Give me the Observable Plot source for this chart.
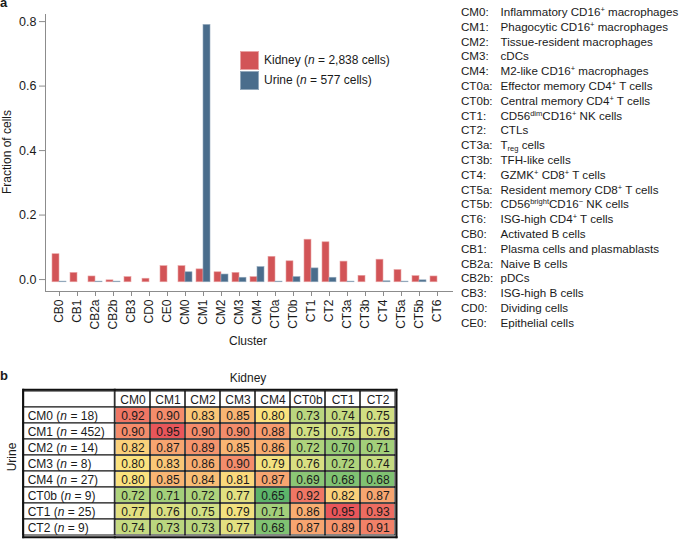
<!DOCTYPE html>
<html><head><meta charset="utf-8">
<script src="https://cdn.jsdelivr.net/npm/d3@7"></script>
<script src="https://cdn.jsdelivr.net/npm/@observablehq/plot@0.6"></script>
<style>
body{margin:0;background:#fff;font-family:"Liberation Sans",Arial,sans-serif;color:#1a1a1a}
#root{position:relative;width:685px;height:539px;overflow:hidden}
.abs{position:absolute;white-space:nowrap}
.list{left:461px;top:5px;font-size:11.6px;line-height:14.8px}
.list .code{display:inline-block;width:39.5px}
sup,sub{font-size:65%;line-height:0}
sup{vertical-align:0.55em}
sub{vertical-align:-0.3em}
.sw{position:absolute;width:19px;height:19px;box-sizing:border-box}
svg{overflow:visible}
</style></head><body><div id="root"></div>
<script>
// ---------- data ----------
const clusters = ["CB0","CB1","CB2a","CB2b","CB3","CD0","CE0","CM0","CM1","CM2","CM3","CM4","CT0a","CT0b","CT1","CT2","CT3a","CT3b","CT4","CT5a","CT5b","CT6"];
const kidneyFrac = [0.087,0.029,0.018,0.006,0.016,0.011,0.050,0.050,0.040,0.031,0.029,0.016,0.079,0.065,0.132,0.124,0.064,0.020,0.070,0.038,0.019,0.018];
const urineFrac  = [0.002,null,0.002,0.002,null,null,null,0.031,0.798,0.024,0.014,0.047,0.002,0.016,0.043,0.014,0.002,null,0.003,0.002,0.006,null];
const yTicks = [0,0.2,0.4,0.6,0.8];
const seriesNames = ["Kidney","Urine"];
const seriesN = ["2,838","577"];

const kidneyCols = ["CM0","CM1","CM2","CM3","CM4","CT0b","CT1","CT2"];
const urineRows  = ["CM0","CM1","CM2","CM3","CM4","CT0b","CT1","CT2"];
const urineN     = [18,452,14,8,27,9,25,9];
const similarity = [
  [0.92,0.90,0.83,0.85,0.80,0.73,0.74,0.75],
  [0.90,0.95,0.90,0.90,0.88,0.75,0.75,0.76],
  [0.82,0.87,0.89,0.85,0.86,0.72,0.70,0.71],
  [0.80,0.83,0.86,0.90,0.79,0.76,0.72,0.74],
  [0.80,0.85,0.84,0.81,0.87,0.69,0.68,0.68],
  [0.72,0.71,0.72,0.77,0.65,0.92,0.82,0.87],
  [0.77,0.76,0.75,0.79,0.71,0.86,0.95,0.93],
  [0.74,0.73,0.73,0.77,0.68,0.87,0.89,0.91]
];

const legendCodes = ["CM0","CM1","CM2","CM3","CM4","CT0a","CT0b","CT1","CT2","CT3a","CT3b","CT4","CT5a","CT5b","CT6","CB0","CB1","CB2a","CB2b","CB3","CD0","CE0"];
const legendNames = [
  "Inflammatory CD16<sup>+</sup> macrophages",
  "Phagocytic CD16<sup>+</sup> macrophages",
  "Tissue-resident macrophages",
  "cDCs",
  "M2-like CD16<sup>+</sup> macrophages",
  "Effector memory CD4<sup>+</sup> T cells",
  "Central memory CD4<sup>+</sup> T cells",
  "CD56<sup>dim</sup>CD16<sup>+</sup> NK cells",
  "CTLs",
  "T<sub>reg</sub> cells",
  "TFH-like cells",
  "GZMK<sup>+</sup> CD8<sup>+</sup> T cells",
  "Resident memory CD8<sup>+</sup> T cells",
  "CD56<sup>bright</sup>CD16<sup>\u2212</sup> NK cells",
  "ISG-high CD4<sup>+</sup> T cells",
  "Activated B cells",
  "Plasma cells and plasmablasts",
  "Naive B cells",
  "pDCs",
  "ISG-high B cells",
  "Dividing cells",
  "Epithelial cells"
];

// ---------- styles ----------
const FONT = "Liberation Sans, Arial, sans-serif";
const kidneyColor = "#d25457", kidneyEdge = "#e9a3a4";
const urineColor = "#4a6d8c", urineEdge = "#93a9bc";
const axisGrey = "#8c8c8c";
const root = document.getElementById("root");

function place(el, css){ el.classList.add("abs"); Object.assign(el.style, css); root.appendChild(el); return el; }
function textDiv(html, css){ const d = document.createElement("div"); d.innerHTML = html; return place(d, css); }

// ---------- panel a : bar chart ----------
const barRows = clusters.flatMap((c, i) => [
  {cluster: c, source: seriesNames[0], v: kidneyFrac[i]},
  {cluster: c, source: seriesNames[1], v: urineFrac[i]}
]).filter(d => d.v != null);

function barChart(half){
  return Plot.plot({
    width: 455, height: 352,
    marginLeft: 45, marginRight: 3, marginTop: 14, marginBottom: 61,
    style: {fontFamily: FONT, fontSize: "12px", color: "#1a1a1a", background: "transparent"},
    x: {domain: clusters, paddingInner: 0.2, paddingOuter: 0.2, axis: null},
    y: {domain: [-0.037, 0.822], axis: null},
    marks: [
      Plot.frame({anchor: "left", stroke: axisGrey}),
      Plot.frame({anchor: "bottom", stroke: axisGrey}),
      Plot.axisY(yTicks, {tickFormat: d3.format(".1f"), tickSize: 6, tickPadding: 3, stroke: axisGrey, fill: "#1a1a1a", fontSize: 12.5, label: null}),
      Plot.axisX({tickRotate: -90, tickSize: 5, tickPadding: 3, stroke: axisGrey, fill: "#1a1a1a", fontSize: 12, label: null}),
      Plot.barY(barRows.filter(d => d.source === seriesNames[0]), {x: "cluster", y: "v", dy: 2.7, fill: kidneyColor, stroke: kidneyEdge, strokeWidth: 0.6, insetRight: half}),
      Plot.barY(barRows.filter(d => d.source === seriesNames[1]), {x: "cluster", y: "v", dy: 2.7, fill: urineColor, stroke: urineEdge, strokeWidth: 0.6, insetLeft: half})
    ]
  });
}
const probe = barChart(0);
const half = probe.scale("x").bandwidth / 2;
const bars = barChart(half);
place(bars, {left: "0px", top: "0px"});

// legend for series
[kidneyColor, urineColor].forEach((col, i) => {
  const s = document.createElement("div");
  s.className = "sw";
  Object.assign(s.style, {left: "240px", top: (51 + i * 20) + "px", background: col, border: "1px solid " + (i ? urineEdge : kidneyEdge)});
  root.appendChild(s);
  textDiv(`${seriesNames[i]} (<i>n</i> = ${seriesN[i]} cells)`, {left: "264px", top: (53 + i * 20) + "px", fontSize: "12px"});
});

textDiv("Fraction of cells", {left: "-93px", top: "145px", width: "200px", textAlign: "center", fontSize: "12px", transform: "rotate(-90deg)"});
textDiv("Cluster", {left: "198px", top: "334px", width: "100px", textAlign: "center", fontSize: "12px"});
textDiv("a", {left: "0px", top: "-5px", fontWeight: "bold", fontSize: "13px"});

// cluster legend list
const list = document.createElement("div");
list.className = "list";
list.innerHTML = legendCodes.map((c, i) => `<div><span class="code">${c}:</span>${legendNames[i]}</div>`).join("");
place(list, {});

// ---------- panel b : similarity table ----------
textDiv("b", {left: "0px", top: "368px", fontWeight: "bold", fontSize: "13px"});
textDiv("Kidney", {left: "198px", top: "371px", width: "100px", textAlign: "center", fontSize: "12px"});
textDiv("Urine", {left: "-38px", top: "450px", width: "100px", textAlign: "center", fontSize: "12px", transform: "rotate(-90deg)"});

const HEADER = "header";
const yDomain = [HEADER, ...urineRows];
const cellData = urineRows.flatMap((r, i) => kidneyCols.map((c, j) => ({row: r, col: c, v: similarity[i][j]})));
const headerData = kidneyCols.map(c => ({row: HEADER, col: c}));
const rowLabels = [{row: HEADER, label: ""}, ...urineRows.map((r, i) => ({row: r, label: `${r} (n = ${urineN[i]})`}))];

const heat = Plot.plot({
  width: 286, height: 154,
  marginLeft: 0.3, marginRight: 4, marginTop: 4.3, marginBottom: 2.3,
  style: {fontFamily: FONT, fontSize: "12px", color: "#1a1a1a", background: "transparent"},
  x: {domain: kidneyCols, padding: 0, axis: null},
  y: {domain: yDomain, padding: 0, axis: null},
  color: {type: "linear", domain: [0.65, 0.70, 0.75, 0.80, 0.85, 0.90, 0.95],
          range: ["#5db46a", "#97cb78", "#d1de83", "#fbe27e", "#f9b573", "#f48c6b", "#e8565a"]},
  marks: [
    Plot.cell(cellData, {x: "col", y: "row", fill: "v", inset: 0.9}),
    Plot.cell([...headerData, ...cellData], {x: "col", y: "row", fill: "none", stroke: "#111", strokeWidth: 1}),
    Plot.text(cellData, {x: "col", y: "row", text: d => d.v.toFixed(2), fontSize: 12, fill: "#1a1a1a", dy: 0.5}),
    Plot.text(headerData, {x: "col", y: "row", text: "col", fontSize: 12, fill: "#1a1a1a", dy: 0.5}),
    Plot.frame({anchor: "top", stroke: "#111", strokeWidth: 2}),
    Plot.frame({anchor: "right", stroke: "#111", strokeWidth: 2}),
    Plot.frame({anchor: "bottom", stroke: "#111", strokeWidth: 2})
  ]
});
place(heat, {left: "114px", top: "385px"});

const labels = Plot.plot({
  width: 95, height: 154,
  marginLeft: 2.7, marginRight: 0.7, marginTop: 4.3, marginBottom: 2.3,
  style: {fontFamily: FONT, fontSize: "12px", color: "#1a1a1a", background: "transparent"},
  y: {domain: yDomain, padding: 0, axis: null},
  marks: [
    Plot.cell(rowLabels, {y: "row", fill: "white", stroke: "#111", strokeWidth: 1}),
    Plot.text(rowLabels, {y: "row", text: "label", frameAnchor: "left", dx: 4.5, dy: 0.5, textAnchor: "start", fontSize: 12, fill: "#1a1a1a"}),
    Plot.frame({anchor: "top", stroke: "#111", strokeWidth: 2}),
    Plot.frame({anchor: "left", stroke: "#111", strokeWidth: 2}),
    Plot.frame({anchor: "bottom", stroke: "#111", strokeWidth: 2})
  ]
});
labels.querySelectorAll("text").forEach(t => {
  const s = t.textContent;
  if (s.includes("(n =")) t.innerHTML = s.replace("(n =", '(<tspan font-style="italic">n</tspan> =');
});
place(labels, {left: "20px", top: "385px"});
</script></body></html>
